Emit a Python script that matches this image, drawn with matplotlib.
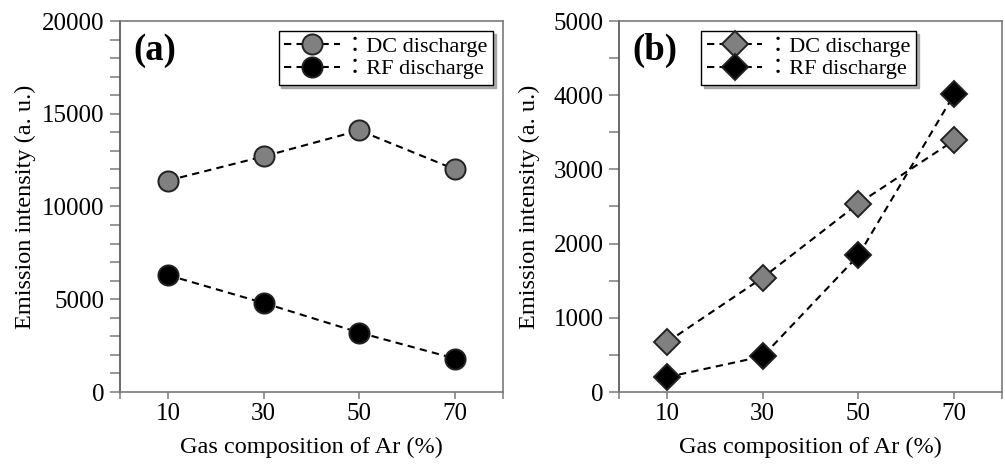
import matplotlib
matplotlib.use('Agg')
import matplotlib.pyplot as plt
from matplotlib.font_manager import FontProperties
from matplotlib.ticker import MultipleLocator, FixedLocator

plt.rcParams['font.family'] = ['Liberation Serif', 'Noto Sans CJK JP', 'DejaVu Sans']

# data
ar_pct = [10, 30, 50, 70]
dc_a = [11400, 12700, 14100, 12000]
rf_a = [6300, 4800, 3200, 1800]
dc_b = [670, 1540, 2540, 3390]
rf_b = [200, 480, 1840, 4010]

LABELS = ['\uff1aDC discharge', '\uff1aRF discharge']
SPINE = '#7a7a7a'
GRAY = '#808080'


def style_axes(ax, ymax, major, minor):
    ax.set_xlim(0, 80)
    ax.set_ylim(0, ymax)
    ax.xaxis.set_major_locator(FixedLocator(ar_pct))
    ax.xaxis.set_minor_locator(FixedLocator([0, 80]))
    ax.yaxis.set_major_locator(MultipleLocator(major))
    ax.yaxis.set_minor_locator(MultipleLocator(minor))
    for s in ax.spines.values():
        s.set_color(SPINE)
        s.set_linewidth(1.2)
    ax.spines['left'].set_color('#505050')
    ax.tick_params(axis='y', which='both', direction='out', length=7,
                   width=1.1, color=SPINE, labelsize=18, pad=4)
    ax.tick_params(axis='x', which='both', direction='out', length=5,
                   width=1.1, color=SPINE, labelsize=18, pad=3)
    ax.set_xlabel('Gas composition of Ar (%)', fontsize=17.5)
    ax.set_ylabel('Emission intensity (a. u.)', fontsize=17.5)
    ax.xaxis.set_label_coords(0.5, -0.12)


def add_legend(ax, x_anchor):
    prop = FontProperties(family=['Liberation Serif', 'Noto Sans CJK JP'], size=16)
    leg = ax.legend(loc='upper right', bbox_to_anchor=(x_anchor, 0.973),
                    borderaxespad=0, prop=prop, frameon=True, fancybox=False,
                    shadow={'color': '#9a9a9a', 'alpha': 0.8}, handlelength=2.5,
                    handletextpad=0.2, labelspacing=0.08, borderpad=0.25)
    leg.get_frame().set_edgecolor('black')
    leg.get_frame().set_linewidth(1.0)


fig = plt.figure(figsize=(10.05, 4.65), dpi=100)
ax1 = fig.add_axes([120 / 1005, 1 - 392 / 465, 383 / 1005, 371 / 465])
ax2 = fig.add_axes([619 / 1005, 1 - 392 / 465, 383 / 1005, 371 / 465])

line_kw = dict(color='black', linestyle=(0, (3.5, 2.5)), linewidth=1.5,
               markeredgecolor='#222222', markeredgewidth=1.4)

ax1.plot(ar_pct, dc_a, marker='o', markersize=14.5, markerfacecolor=GRAY,
         label=LABELS[0], **line_kw)
ax1.plot(ar_pct, rf_a, marker='o', markersize=14.5, markerfacecolor='black',
         label=LABELS[1], **line_kw)
style_axes(ax1, 20000, 5000, 1000)
ax1.yaxis.set_label_coords(-0.219, 0.5)
add_legend(ax1, 0.974)
ax1.text(0.034, 0.92, '(a)', transform=ax1.transAxes, fontsize=26.5,
         fontweight='bold', va='center', ha='left')

ax2.plot(ar_pct, dc_b, marker='D', markersize=13, markerfacecolor=GRAY,
         label=LABELS[0], **line_kw)
ax2.plot(ar_pct, rf_b, marker='D', markersize=13, markerfacecolor='black',
         label=LABELS[1], **line_kw)
style_axes(ax2, 5000, 1000, 500)
ax2.yaxis.set_label_coords(-0.205, 0.5)
add_legend(ax2, 0.775)
ax2.text(0.034, 0.92, '(b)', transform=ax2.transAxes, fontsize=26.5,
         fontweight='bold', va='center', ha='left')

fig.savefig('out.png', dpi=100)
